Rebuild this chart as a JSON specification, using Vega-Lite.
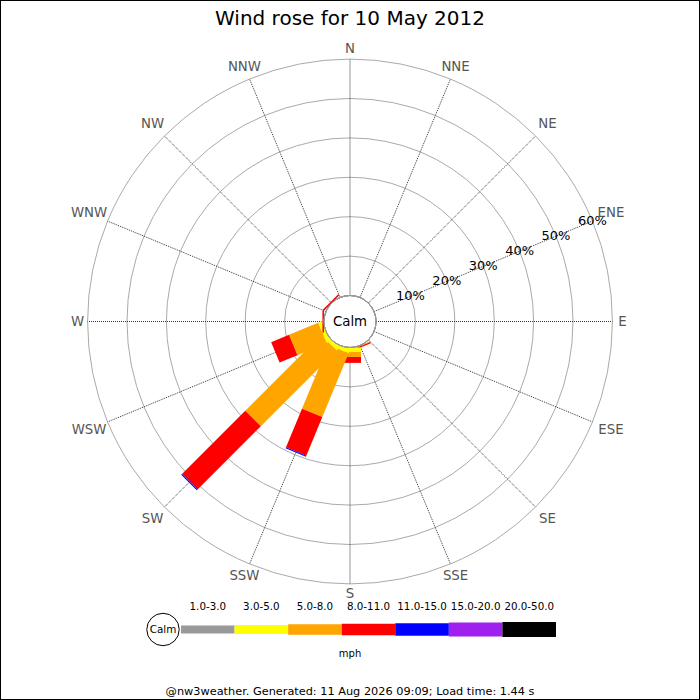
{
  "$schema": "https://vega.github.io/schema/vega-lite/v5.json",
  "width": 700,
  "height": 700,
  "autosize": "none",
  "padding": 0,
  "background": "white",
  "title": {
    "text": "Wind rose for 10 May 2012",
    "font": "DejaVu Sans",
    "fontSize": 20,
    "fontWeight": "normal",
    "color": "#000000",
    "frame": "group",
    "anchor": "middle",
    "baseline": "alphabetic",
    "offset": -45
  },
  "datasets": {
    "directions": [
      {"name": "N", "deg": 0, "grp": 0},
      {"name": "NNE", "deg": 22.5, "grp": 1},
      {"name": "NE", "deg": 45, "grp": 2},
      {"name": "ENE", "deg": 67.5, "grp": 3},
      {"name": "E", "deg": 90, "grp": 0},
      {"name": "ESE", "deg": 112.5, "grp": 3},
      {"name": "SE", "deg": 135, "grp": 2},
      {"name": "SSE", "deg": 157.5, "grp": 1},
      {"name": "S", "deg": 180, "grp": 0},
      {"name": "SSW", "deg": 202.5, "grp": 1},
      {"name": "SW", "deg": 225, "grp": 2},
      {"name": "WSW", "deg": 247.5, "grp": 3},
      {"name": "W", "deg": 270, "grp": 0},
      {"name": "WNW", "deg": 292.5, "grp": 3},
      {"name": "NW", "deg": 315, "grp": 2},
      {"name": "NNW", "deg": 337.5, "grp": 1}
    ],
    "rings": [
      {"p": 10, "label": "10%"},
      {"p": 20, "label": "20%"},
      {"p": 30, "label": "30%"},
      {"p": 40, "label": "40%"},
      {"p": 50, "label": "50%"},
      {"p": 60, "label": "60%"}
    ],
    "speeds": [
      {"band": "1.0-3.0", "k": 1},
      {"band": "3.0-5.0", "k": 2},
      {"band": "5.0-8.0", "k": 3},
      {"band": "8.0-11.0", "k": 4},
      {"band": "11.0-15.0", "k": 5},
      {"band": "15.0-20.0", "k": 6},
      {"band": "20.0-50.0", "k": 7}
    ],
    "bars": [
      {"dir": "SSE", "deg": 157.5, "band": "5.0-8.0", "k": 3, "pct": 0.2},
      {"dir": "SSE", "deg": 157.5, "band": "8.0-11.0", "k": 4, "pct": 0.3},
      {"dir": "S", "deg": 180, "band": "3.0-5.0", "k": 2, "pct": 1.1},
      {"dir": "S", "deg": 180, "band": "5.0-8.0", "k": 3, "pct": 1.3},
      {"dir": "S", "deg": 180, "band": "8.0-11.0", "k": 4, "pct": 1.5},
      {"dir": "SSW", "deg": 202.5, "band": "3.0-5.0", "k": 2, "pct": 1.0},
      {"dir": "SSW", "deg": 202.5, "band": "5.0-8.0", "k": 3, "pct": 17.5},
      {"dir": "SSW", "deg": 202.5, "band": "8.0-11.0", "k": 4, "pct": 10.6},
      {"dir": "SSW", "deg": 202.5, "band": "11.0-15.0", "k": 5, "pct": 0.3},
      {"dir": "SW", "deg": 225, "band": "3.0-5.0", "k": 2, "pct": 1.0},
      {"dir": "SW", "deg": 225, "band": "5.0-8.0", "k": 3, "pct": 27.2},
      {"dir": "SW", "deg": 225, "band": "8.0-11.0", "k": 4, "pct": 22.7},
      {"dir": "SW", "deg": 225, "band": "11.0-15.0", "k": 5, "pct": 0.3},
      {"dir": "WSW", "deg": 247.5, "band": "3.0-5.0", "k": 2, "pct": 1.0},
      {"dir": "WSW", "deg": 247.5, "band": "5.0-8.0", "k": 3, "pct": 8.0},
      {"dir": "WSW", "deg": 247.5, "band": "8.0-11.0", "k": 4, "pct": 4.9},
      {"dir": "W", "deg": 270, "band": "8.0-11.0", "k": 4, "pct": 0.4},
      {"dir": "NW", "deg": 315, "band": "8.0-11.0", "k": 4, "pct": 0.4}
    ]
  },
  "layer": [
    {
      "layer": [
        {
          "data": {"name": "rings"},
          "mark": {"type": "arc", "filled": false, "stroke": "#aaaaaa", "strokeWidth": 1},
          "encoding": {
            "x": {"datum": 0, "type": "quantitative", "scale": {"domain": [-88.832, 88.832], "nice": false, "zero": false}, "axis": null},
            "y": {"datum": 0, "type": "quantitative", "scale": {"domain": [-96.066, 81.599], "nice": false, "zero": false}, "axis": null},
            "theta": {"datum": 0, "type": "quantitative", "scale": {"domain": [0, 360], "range": [0, 6.283185307179586]}},
            "theta2": {"datum": 360},
            "radius": {"field": "p", "type": "quantitative", "stack": null, "scale": {"type": "linear", "domain": [-6.6, 83.4], "range": [0, 354.6], "zero": false, "nice": false}}
          }
        },
        {
          "data": {"name": "directions"},
          "transform": [
            {"calculate": "datum.deg * PI / 180", "as": "a"},
            {"calculate": "6.6 * sin(datum.a)", "as": "x0"},
            {"calculate": "6.6 * cos(datum.a)", "as": "y0"},
            {"calculate": "66.6 * sin(datum.a)", "as": "x1"},
            {"calculate": "66.6 * cos(datum.a)", "as": "y1"}
          ],
          "mark": {"type": "rule", "color": "#333333", "strokeWidth": 1, "strokeDash": [1, 1]},
          "encoding": {
            "x": {"field": "x0", "type": "quantitative", "scale": {"domain": [-88.832, 88.832], "nice": false, "zero": false}, "axis": null},
            "y": {"field": "y0", "type": "quantitative", "scale": {"domain": [-96.066, 81.599], "nice": false, "zero": false}, "axis": null},
            "x2": {"field": "x1"},
            "y2": {"field": "y1"}
          }
        },
        {
          "data": {"name": "bars"},
          "transform": [
            {"stack": "pct", "groupby": ["deg"], "sort": [{"field": "k", "order": "ascending"}], "as": ["p0", "p1"]},
            {"calculate": "datum.deg * PI / 180", "as": "a"},
            {"calculate": "(datum.p0 + 6.6) * sin(datum.a)", "as": "x0"},
            {"calculate": "(datum.p0 + 6.6) * cos(datum.a)", "as": "y0"},
            {"calculate": "(datum.p1 + 6.6) * sin(datum.a)", "as": "x1"},
            {"calculate": "(datum.p1 + 6.6) * cos(datum.a)", "as": "y1"}
          ],
          "mark": {"type": "rule", "strokeWidth": 22, "strokeCap": "butt"},
          "encoding": {
            "x": {"field": "x0", "type": "quantitative", "scale": {"domain": [-88.832, 88.832], "nice": false, "zero": false}, "axis": null},
            "y": {"field": "y0", "type": "quantitative", "scale": {"domain": [-96.066, 81.599], "nice": false, "zero": false}, "axis": null},
            "x2": {"field": "x1"},
            "y2": {"field": "y1"},
            "color": {
              "field": "band",
              "type": "nominal",
              "scale": {
                "domain": ["1.0-3.0", "3.0-5.0", "5.0-8.0", "8.0-11.0", "11.0-15.0", "15.0-20.0", "20.0-50.0"],
                "range": ["#999999", "#ffff00", "#ffa500", "#ff0000", "#0000ff", "#a020f0", "#000000"]
              },
              "legend": null
            }
          }
        },
        {
          "data": {"values": [{"label": "Calm"}]},
          "mark": {"type": "arc", "fill": "white", "stroke": "#999999", "strokeWidth": 1},
          "encoding": {
            "x": {"datum": 0, "type": "quantitative", "scale": {"domain": [-88.832, 88.832], "nice": false, "zero": false}, "axis": null},
            "y": {"datum": 0, "type": "quantitative", "scale": {"domain": [-96.066, 81.599], "nice": false, "zero": false}, "axis": null},
            "theta": {"datum": 0, "type": "quantitative", "scale": {"domain": [0, 360], "range": [0, 6.283185307179586]}},
            "theta2": {"datum": 360},
            "radius": {"datum": 0, "type": "quantitative", "stack": null, "scale": {"type": "linear", "domain": [-6.6, 83.4], "range": [0, 354.6], "zero": false, "nice": false}}
          }
        },
        {
          "data": {"values": [{"label": "Calm"}]},
          "mark": {"type": "text", "fontSize": 13.3, "color": "#000000", "align": "center", "baseline": "middle"},
          "encoding": {
            "x": {"datum": 0, "type": "quantitative", "scale": {"domain": [-88.832, 88.832], "nice": false, "zero": false}, "axis": null},
            "y": {"datum": 0, "type": "quantitative", "scale": {"domain": [-96.066, 81.599], "nice": false, "zero": false}, "axis": null},
            "text": {"field": "label"}
          }
        },
        {
          "data": {"name": "rings"},
          "mark": {"type": "text", "fontSize": 13, "color": "#000000", "align": "center", "baseline": "middle"},
          "encoding": {
            "x": {"datum": 0, "type": "quantitative", "scale": {"domain": [-88.832, 88.832], "nice": false, "zero": false}, "axis": null},
            "y": {"datum": 0, "type": "quantitative", "scale": {"domain": [-96.066, 81.599], "nice": false, "zero": false}, "axis": null},
            "theta": {"datum": 67.5, "type": "quantitative", "scale": {"domain": [0, 360], "range": [0, 6.283185307179586]}},
            "radius": {"field": "p", "type": "quantitative", "stack": null, "scale": {"type": "linear", "domain": [-6.6, 83.4], "range": [0, 354.6], "zero": false, "nice": false}},
            "text": {"field": "label"}
          }
        },
        {
          "data": {"name": "directions"},
          "mark": {"type": "text", "fontSize": 13.3, "color": "#555555", "align": "center", "baseline": "middle"},
          "encoding": {
            "x": {"datum": 0, "type": "quantitative", "scale": {"domain": [-88.832, 88.832], "nice": false, "zero": false}, "axis": null},
            "y": {"datum": 0, "type": "quantitative", "scale": {"domain": [-96.066, 81.599], "nice": false, "zero": false}, "axis": null},
            "theta": {"field": "deg", "type": "quantitative", "scale": {"domain": [0, 360], "range": [0, 6.283185307179586]}},
            "radius": {"field": "grp", "type": "quantitative", "stack": null, "scale": {"type": "linear", "domain": [0, 3], "range": [272.5, 282.5], "zero": false, "nice": false}},
            "text": {"field": "name"}
          }
        }
      ],
      "resolve": {"scale": {"radius": "independent"}}
    },
    {
      "layer": [
        {
          "data": {"name": "speeds"},
          "transform": [
            {"aggregate": [{"op": "count", "as": "n"}], "groupby": ["band", "k"]},
            {"stack": "n", "groupby": [], "sort": [{"field": "k", "order": "ascending"}], "as": ["u0", "u1"]}
          ],
          "mark": {"type": "rule", "strokeCap": "butt"},
          "encoding": {
            "x": {"field": "u0", "type": "quantitative", "scale": {"domain": [-3.3787, 9.688], "nice": false, "zero": false}, "axis": null},
            "x2": {"field": "u1"},
            "y": {"datum": 0, "type": "quantitative", "scale": {"domain": [-0.705, 6.295], "nice": false, "zero": false}, "axis": null},
            "color": {
              "field": "band",
              "type": "nominal",
              "scale": {
                "domain": ["1.0-3.0", "3.0-5.0", "5.0-8.0", "8.0-11.0", "11.0-15.0", "15.0-20.0", "20.0-50.0"],
                "range": ["#999999", "#ffff00", "#ffa500", "#ff0000", "#0000ff", "#a020f0", "#000000"]
              },
              "legend": null
            },
            "strokeWidth": {
              "field": "band",
              "type": "ordinal",
              "scale": {
                "domain": ["1.0-3.0", "3.0-5.0", "5.0-8.0", "8.0-11.0", "11.0-15.0", "15.0-20.0", "20.0-50.0"],
                "range": [8, 15, 20, 23, 25, 27, 28]
              },
              "legend": null
            }
          }
        },
        {
          "data": {"name": "speeds"},
          "mark": {"type": "text", "fontSize": 10.3, "color": "#000000", "align": "center", "baseline": "middle", "dy": -22.5},
          "encoding": {
            "x": {"aggregate": "count", "type": "quantitative", "stack": "zero", "bandPosition": 0.5, "scale": {"domain": [-3.3787, 9.688], "nice": false, "zero": false}, "axis": null},
            "y": {"datum": 0, "type": "quantitative", "scale": {"domain": [-0.705, 6.295], "nice": false, "zero": false}, "axis": null},
            "detail": {"field": "band"},
            "text": {"field": "band"},
            "order": {"field": "k", "type": "quantitative"}
          }
        },
        {
          "data": {"values": [{"label": "Calm"}]},
          "mark": {"type": "point", "shape": "circle", "size": 1052, "fill": "white", "stroke": "#000000", "strokeWidth": 1, "opacity": 1},
          "encoding": {
            "x": {"datum": -0.336, "type": "quantitative", "scale": {"domain": [-3.3787, 9.688], "nice": false, "zero": false}, "axis": null},
            "y": {"datum": 0, "type": "quantitative", "scale": {"domain": [-0.705, 6.295], "nice": false, "zero": false}, "axis": null}
          }
        },
        {
          "data": {"values": [{"label": "Calm"}]},
          "mark": {"type": "text", "fontSize": 10.4, "color": "#000000", "align": "center", "baseline": "middle"},
          "encoding": {
            "x": {"datum": -0.336, "type": "quantitative", "scale": {"domain": [-3.3787, 9.688], "nice": false, "zero": false}, "axis": null},
            "y": {"datum": 0, "type": "quantitative", "scale": {"domain": [-0.705, 6.295], "nice": false, "zero": false}, "axis": null},
            "text": {"field": "label"}
          }
        },
        {
          "data": {"values": [{"label": "mph"}]},
          "mark": {"type": "text", "fontSize": 10, "color": "#000000", "align": "center", "baseline": "middle", "dy": 24.5},
          "encoding": {
            "x": {"datum": 3.155, "type": "quantitative", "scale": {"domain": [-3.3787, 9.688], "nice": false, "zero": false}, "axis": null},
            "y": {"datum": 0, "type": "quantitative", "scale": {"domain": [-0.705, 6.295], "nice": false, "zero": false}, "axis": null},
            "text": {"field": "label"}
          }
        },
        {
          "data": {"values": [{"label": "@nw3weather. Generated: 11 Aug 2026 09:09; Load time: 1.44 s"}]},
          "mark": {"type": "text", "fontSize": 11.3, "color": "#000000", "align": "center", "baseline": "middle", "dy": 62.5},
          "encoding": {
            "x": {"datum": 3.155, "type": "quantitative", "scale": {"domain": [-3.3787, 9.688], "nice": false, "zero": false}, "axis": null},
            "y": {"datum": 0, "type": "quantitative", "scale": {"domain": [-0.705, 6.295], "nice": false, "zero": false}, "axis": null},
            "text": {"field": "label"}
          }
        }
      ]
    }
  ],
  "resolve": {"scale": {"x": "independent", "y": "independent"}},
  "config": {
    "font": "DejaVu Sans",
    "view": {"stroke": "#000000", "strokeWidth": 2}
  }
}
